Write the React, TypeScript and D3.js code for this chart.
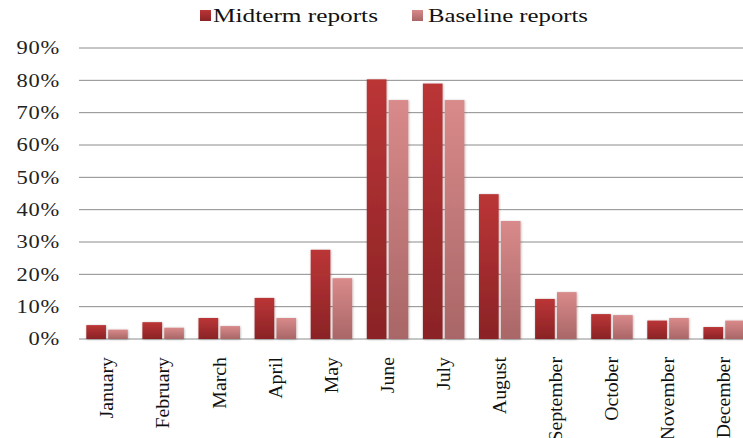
import React from 'react';
import * as d3 from 'd3';

const months = ['January', 'February', 'March', 'April', 'May', 'June', 'July', 'August', 'September', 'October', 'November', 'December'];
const midterm = [4.3, 5.2, 6.5, 12.7, 27.6, 80.3, 79.0, 44.8, 12.4, 7.7, 5.7, 3.7];
const baseline = [2.9, 3.5, 4.0, 6.5, 18.8, 73.9, 73.9, 36.5, 14.5, 7.4, 6.5, 5.7];
const yTicks = [0, 10, 20, 30, 40, 50, 60, 70, 80, 90];
const seriesNames = ['Midterm reports', 'Baseline reports'];

const W = 743;
const H = 438;
const left = 79;
const bandW = 56.1;
const top = 48;
const bottom = 339;

export default function App() {
  const x = d3.scaleBand<string>().domain(months).range([left, left + bandW * months.length]).paddingInner(0.26).paddingOuter(0.13);
  const inner = d3.scaleBand<string>().domain(['m', 'b']).range([0, x.bandwidth()]).paddingInner(0.1);
  const y = d3.scaleLinear().domain([0, 90]).range([bottom, top]);

  const series = [
    { key: 'm', values: midterm, fill: 'url(#gradRed)' },
    { key: 'b', values: baseline, fill: 'url(#gradPink)' },
  ];

  return (
    <svg width={W} height={H} style={{ position: 'absolute', left: 0, top: 0, background: '#fff' }}
      fontFamily="'Liberation Serif', 'Times New Roman', serif">
      <defs>
        <linearGradient id="gradRed" x1="0" y1="0" x2="0" y2="1">
          <stop offset="0" stopColor="#bb3536" />
          <stop offset="1" stopColor="#8a2326" />
        </linearGradient>
        <linearGradient id="gradPink" x1="0" y1="0" x2="0" y2="1">
          <stop offset="0" stopColor="#d98a8a" />
          <stop offset="1" stopColor="#a96667" />
        </linearGradient>
        <filter id="shadow" x="-20%" y="-5%" width="140%" height="110%">
          <feDropShadow dx="0.5" dy="0.5" stdDeviation="1" floodColor="#000" floodOpacity="0.3" />
        </filter>
      </defs>

      {yTicks.map((t) => (
        <g key={t}>
          <line x1={left} x2={W} y1={y(t)} y2={y(t)} stroke="#8c8c8c" strokeWidth={1} />
          <text transform={`translate(60,${y(t)}) scale(1.25,1)`} dy="0.35em" textAnchor="end" fontSize={18} letterSpacing={0.6} fill="#222">{t}%</text>
        </g>
      ))}

      {series.map((s) => (
        <g key={s.key} filter="url(#shadow)">
          {s.values.map((v, i) => (
            <rect key={i}
              x={(x(months[i]) as number) + (inner(s.key) as number)}
              y={y(v)}
              width={inner.bandwidth()}
              height={y(0) - y(v)}
              fill={s.fill}
            />
          ))}
        </g>
      ))}

      {months.map((m) => (
        <text key={m}
          transform={`translate(${(x(m) as number) + x.bandwidth() / 2},357) rotate(-90) scale(1.1,1)`}
          dy="0.35em" textAnchor="end" fontSize={18} fill="#111">{m}</text>
      ))}

      <g>
        <rect x={200} y={10} width={11} height={11} fill="url(#gradRed)" />
        <text x={213} y={22} fontSize={19} fill="#111" textLength={165} lengthAdjust="spacingAndGlyphs">{seriesNames[0]}</text>
        <rect x={412} y={10} width={11} height={11} fill="url(#gradPink)" />
        <text x={428} y={22} fontSize={19} fill="#111" textLength={160} lengthAdjust="spacingAndGlyphs">{seriesNames[1]}</text>
      </g>
    </svg>
  );
}
